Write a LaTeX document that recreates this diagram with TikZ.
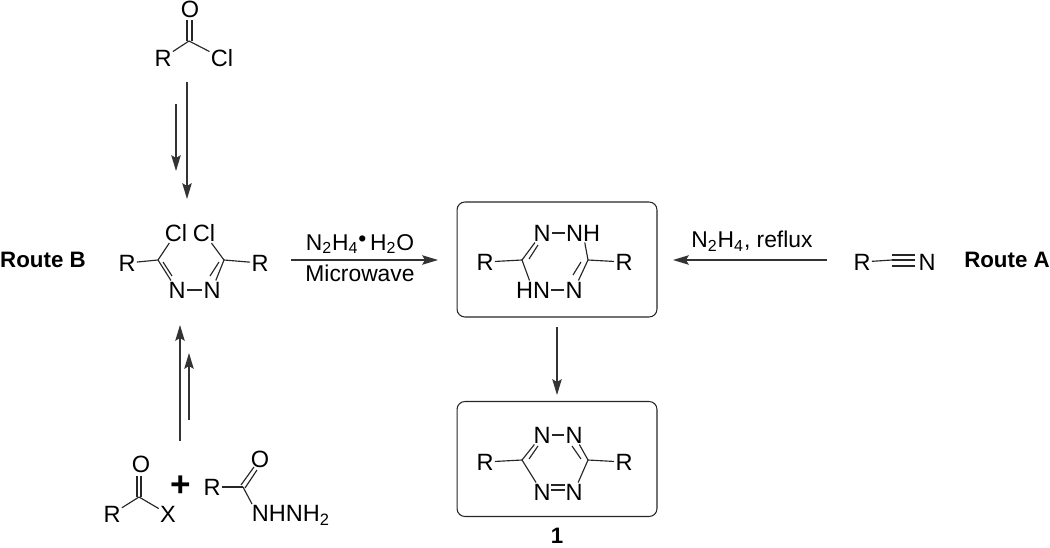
\documentclass[tikz,border=0pt]{standalone}
\usepackage{fontspec}
\setmainfont{Liberation Sans}
\usetikzlibrary{positioning,calc,arrows.meta}
\tikzset{
	atom/.style={inner sep=0.6pt,font=\fontsize{13.4}{15}\selectfont},
	lab/.style={inner sep=0pt,font=\fontsize{13}{15}\selectfont},
	route/.style={inner sep=0pt,font=\fontsize{12.7}{15}\selectfont\bfseries},
	bond/.style={line width=0.65pt,black!85},
	rxn/.style={line width=0.7pt,black!80,-{Stealth[length=9pt,width=5.4pt,inset=1.6pt]}},
	molbox/.style={draw=black!85,line width=0.6pt,rounded corners=4.5pt,minimum width=4cm,minimum height=2.3cm,inner sep=0pt}
}
\begin{document}
\begin{tikzpicture}[x=0.02cm,y=-0.02cm]
	\useasboundingbox (0,0) rectangle (1050,547);
	
	% acid chloride
	\node[atom] (o1) at (190,9) {O};
	\coordinate (c1) at (189,41);
	\node[atom] (r1) at (163,58) {R};
	\node[atom] (cl1) at (222,58) {Cl};
	\coordinate (d1a) at (187,41);
	\coordinate (d1b) at (187,20);
	\coordinate (d1c) at (192,41);
	\coordinate (d1d) at (192,20);
	\draw[bond] (r1)--(c1);
	\draw[bond] (c1)--(cl1);
	\draw[bond] (d1a)--(d1b);
	\draw[bond] (d1c)--(d1d);
	
	\coordinate (a1s) at (187,82);
	\coordinate (a1e) at (187,199);
	\coordinate (a2s) at (176,104);
	\coordinate (a2e) at (176,171);
	\draw[rxn] (a1s)--(a1e);
	\draw[rxn] (a2s)--(a2e);
	
	% route B ring
	\node[route] (rb) at (43,260) {Route B};
	\node[atom] (r2) at (127,263) {R};
	\coordinate (c2) at (158,260);
	\node[atom] (cl2) at (176,233) {Cl};
	\node[atom] (cl3) at (204,233) {Cl};
	\coordinate (c3) at (224,260);
	\node[atom] (r3) at (260,263) {R};
	\node[atom] (n1) at (177,290) {N};
	\node[atom] (n2) at (212,290) {N};
	\coordinate (d2a) at (163,262);
	\coordinate (d2b) at (172,276);
	\coordinate (d3a) at (219,262);
	\coordinate (d3b) at (210,276);
	\draw[bond] (r2)--(c2);
	\draw[bond] (c2)--(cl2);
	\draw[bond] (c3)--(cl3);
	\draw[bond] (c3)--(r3);
	\draw[bond] (c2)--(n1);
	\draw[bond] (c3)--(n2);
	\draw[bond] (n1)--(n2);
	\draw[bond] (d2a)--(d2b);
	\draw[bond] (d3a)--(d3b);
	
	% boxed dihydro ring
	\node[molbox] (b1) at (557,259.5) {};
	\node[atom] (r4) at (485,262) {R};
	\coordinate (c4) at (522,260);
	\node[atom] (n3) at (542,233) {N};
	\node[atom] (n4) at (583,233) {NH};
	\coordinate (c5) at (588,260);
	\node[atom] (r5) at (624,262) {R};
	\node[atom] (n5) at (533,290) {HN};
	\node[atom] (n6) at (574,290) {N};
	\coordinate (d4a) at (529,259);
	\coordinate (d4b) at (538,245);
	\coordinate (d5a) at (581,262);
	\coordinate (d5b) at (573,275);
	\draw[bond] (r4)--(c4);
	\draw[bond] (c4)--(n3);
	\draw[bond] (c4)--(n5);
	\draw[bond] (n3)--(n4);
	\draw[bond] (n5)--(n6);
	\draw[bond] (n4)--(c5);
	\draw[bond] (c5)--(n6);
	\draw[bond] (c5)--(r5);
	\draw[bond] (d4a)--(d4b);
	\draw[bond] (d5a)--(d5b);
	
	% boxed tetrazine
	\node[molbox] (b2) at (557,459) {};
	\node[atom] (r6) at (485,462) {R};
	\coordinate (c6) at (522,460);
	\node[atom] (n7) at (542,435) {N};
	\node[atom] (n8) at (574,435) {N};
	\coordinate (c7) at (588,460);
	\node[atom] (r7) at (624,462) {R};
	\node[atom] (n9) at (542,492) {N};
	\node[atom] (n10) at (574,492) {N};
	\coordinate (d6a) at (529,459);
	\coordinate (d6b) at (538,446);
	\coordinate (d7a) at (581,459);
	\coordinate (d7b) at (572,446);
	\coordinate (d8a) at (551,485);
	\coordinate (d8b) at (565,485);
	\coordinate (d9a) at (551,490);
	\coordinate (d9b) at (565,490);
	\draw[bond] (r6)--(c6);
	\draw[bond] (c6)--(n7);
	\draw[bond] (c6)--(n9);
	\draw[bond] (n7)--(n8);
	\draw[bond] (n8)--(c7);
	\draw[bond] (c7)--(n10);
	\draw[bond] (c7)--(r7);
	\draw[bond] (d6a)--(d6b);
	\draw[bond] (d7a)--(d7b);
	\draw[bond] (d8a)--(d8b);
	\draw[bond] (d9a)--(d9b);
	\node[route] (one) at (557,536) {1};
	
	% reagents on the horizontal arrows
	\coordinate (a3s) at (291,260);
	\coordinate (a3e) at (438,260);
	\draw[rxn] (a3s)--(a3e);
	\node[lab] (w1) at (360,244) {N\textsubscript{2}H\textsubscript{4}\raisebox{2pt}{\textbullet}\,H\textsubscript{2}O};
	\node[lab] (w2) at (360,273) {Microwave};
	
	\coordinate (a4s) at (827,260);
	\coordinate (a4e) at (673,260);
	\draw[rxn] (a4s)--(a4e);
	\node[lab] (w3) at (752,241) {N\textsubscript{2}H\textsubscript{4}, reflux};
	
	\coordinate (a5s) at (557,327);
	\coordinate (a5e) at (557,395);
	\draw[rxn] (a5s)--(a5e);
	
	% nitrile, route A
	\node[atom] (r8) at (862,262) {R};
	\coordinate (t1) at (892,260);
	\coordinate (t2) at (915,260);
	\coordinate (t3) at (892,255);
	\coordinate (t4) at (915,255);
	\coordinate (t5) at (892,266);
	\coordinate (t6) at (915,266);
	\node[atom] (n11) at (927,262) {N};
	\draw[bond] (r8)--(t1);
	\draw[bond] (t1)--(t2);
	\draw[bond] (t3)--(t4);
	\draw[bond] (t5)--(t6);
	\node[route] (ra) at (1007,260) {Route A};
	
	% bottom starting materials
	\node[atom] (o2) at (141,464) {O};
	\coordinate (c8) at (139,497);
	\node[atom] (r9) at (112,514) {R};
	\node[atom] (x1) at (168,514) {X};
	\coordinate (d10a) at (137,497);
	\coordinate (d10b) at (137,476);
	\coordinate (d10c) at (141,497);
	\coordinate (d10d) at (141,476);
	\draw[bond] (r9)--(c8);
	\draw[bond] (c8)--(x1);
	\draw[bond] (d10a)--(d10b);
	\draw[bond] (d10c)--(d10d);
	\node[route,font=\fontsize{20}{20}\selectfont\bfseries] (plus) at (181,486) {+};
	\node[atom] (r10) at (212,487) {R};
	\coordinate (c9) at (243,487);
	\node[atom] (o3) at (260,459) {O};
	\node[atom] (nh) at (291,515) {NHNH\textsubscript{2}};
	\coordinate (d11a) at (241,485);
	\coordinate (d11b) at (254,467);
	\coordinate (d11c) at (245,488);
	\coordinate (d11d) at (257,470);
	\coordinate (nhb) at (252,504);
	\draw[bond] (r10)--(c9);
	\draw[bond] (c9)--(nhb);
	\draw[bond] (d11a)--(d11b);
	\draw[bond] (d11c)--(d11d);
	
	\coordinate (a6s) at (180,441);
	\coordinate (a6e) at (180,325);
	\coordinate (a7s) at (189,420);
	\coordinate (a7e) at (189,353);
	\draw[rxn] (a6s)--(a6e);
	\draw[rxn] (a7s)--(a7e);
\end{tikzpicture}
\end{document}
